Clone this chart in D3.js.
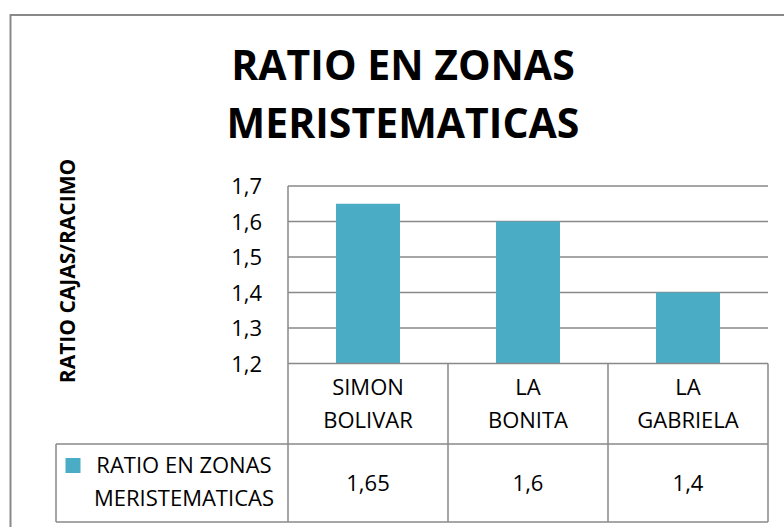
<!DOCTYPE html>
<html>
<head>
<meta charset="utf-8">
<script src="https://cdn.jsdelivr.net/npm/d3@7"></script>
<style>
	html, body {margin:0; padding:0; background:#fff;}
	svg {display:block; font-family:"Open Sans", sans-serif;}
</style>
</head>
<body>
<div id="chart"></div>
<script>
//Data
var categories = ["SIMON BOLIVAR", "LA BONITA", "LA GABRIELA"];
var values = [1.65, 1.6, 1.4];
var valueLabels = ["1,65", "1,6", "1,4"];
var seriesName = ["RATIO EN ZONAS", "MERISTEMATICAS"];
var yTicks = [1.2, 1.3, 1.4, 1.5, 1.6, 1.7];
var titleLines = ["RATIO EN ZONAS", "MERISTEMATICAS"];
var yTitle = "RATIO CAJAS/RACIMO";

//Sizing
var width = 784, height = 527;
var plot = {left: 288, right: 768, top: 186, bottom: 363.5};
var tableBottom = 522;
var rowSplit = 444;
var legendLeft = 56;
var barColor = "#4bacc6";
var lineColor = "#898989";

var svg = d3.select("#chart").append("svg")
	.attr("width", width)
	.attr("height", height);

//Outer chart border (runs off the right and bottom edges)
svg.append("rect")
	.attr("x", 10.5).attr("y", 15)
	.attr("width", 800).attr("height", 540)
	.attr("fill", "none")
	.attr("stroke", lineColor)
	.attr("stroke-width", 2);

//Title
svg.append("g").selectAll("text")
	.data(titleLines)
	.enter().append("text")
		.attr("x", 403)
		.attr("y", function(d, i){return 80 + i*58;})
		.attr("text-anchor", "middle")
		.attr("font-size", 41)
		.attr("font-weight", "bold")
		.attr("fill", "#000")
		.text(function(d){return d;});

//Scales
var x = d3.scaleBand()
	.domain(categories)
	.range([plot.left, plot.right])
	.paddingInner(0.6)
	.paddingOuter(0.3);
var xCell = d3.scaleBand()
	.domain(categories)
	.range([plot.left, plot.right]);
var y = d3.scaleLinear()
	.domain([1.2, 1.7])
	.range([plot.bottom, plot.top]);

//Gridlines
svg.append("g").selectAll("line")
	.data(yTicks.slice(1))
	.enter().append("line")
		.attr("x1", plot.left).attr("x2", plot.right)
		.attr("y1", function(d){return y(d);})
		.attr("y2", function(d){return y(d);})
		.attr("stroke", lineColor)
		.attr("stroke-width", 1.5);

//Bars
svg.append("g").selectAll("rect")
	.data(values)
	.enter().append("rect")
		.attr("x", function(d, i){return x(categories[i]);})
		.attr("y", function(d){return y(d);})
		.attr("width", x.bandwidth())
		.attr("height", function(d){return y(1.2) - y(d);})
		.attr("fill", barColor);

//Y axis (ticks only as labels)
var yAxis = svg.append("g")
	.attr("transform", "translate(" + plot.left + ",0)")
	.call(d3.axisLeft(y).tickValues(yTicks).tickSize(0).tickPadding(26)
		.tickFormat(function(d){return d3.format(".1f")(d).replace(".", ",");}));
yAxis.select(".domain").remove();
yAxis.selectAll("text")
	.attr("font-family", "Open Sans, sans-serif")
	.attr("font-size", 22)
	.attr("fill", "#000")
	.attr("dy", "0.36em");

//Y axis title
svg.append("text")
	.attr("transform", "translate(75,271) rotate(-90)")
	.attr("text-anchor", "middle")
	.attr("font-size", 21)
	.attr("font-weight", "bold")
	.attr("fill", "#000")
	.text(yTitle);

//Data table lines
var table = svg.append("g")
	.attr("stroke", lineColor)
	.attr("stroke-width", 1.5)
	.attr("fill", "none");
table.append("line")
	.attr("x1", plot.left).attr("x2", plot.right)
	.attr("y1", plot.bottom).attr("y2", plot.bottom);
table.append("line")
	.attr("x1", legendLeft).attr("x2", plot.right)
	.attr("y1", rowSplit).attr("y2", rowSplit);
table.append("line")
	.attr("x1", legendLeft).attr("x2", plot.right)
	.attr("y1", tableBottom).attr("y2", tableBottom);
table.append("line")
	.attr("x1", legendLeft).attr("x2", legendLeft)
	.attr("y1", rowSplit).attr("y2", tableBottom);
table.append("line")
	.attr("x1", plot.left).attr("x2", plot.left)
	.attr("y1", plot.top).attr("y2", tableBottom);
table.selectAll("line.cell")
	.data(categories)
	.enter().append("line")
		.attr("class", "cell")
		.attr("x1", function(d){return xCell(d) + xCell.bandwidth();})
		.attr("x2", function(d){return xCell(d) + xCell.bandwidth();})
		.attr("y1", plot.bottom).attr("y2", tableBottom);

//Category labels (two lines each)
var catLabels = svg.append("g").selectAll("text")
	.data(categories)
	.enter().append("text")
		.attr("text-anchor", "middle")
		.attr("font-size", 22)
		.attr("fill", "#000");
catLabels.selectAll("tspan")
	.data(function(d){
		var c = xCell(d) + xCell.bandwidth()/2;
		return d.split(" ").map(function(w){return {w: w, c: c};});
	})
	.enter().append("tspan")
		.attr("x", function(d){return d.c;})
		.attr("y", function(d, i){return 395 + i*33;})
		.text(function(d){return d.w;});

//Values row
svg.append("g").selectAll("text")
	.data(valueLabels)
	.enter().append("text")
		.attr("x", function(d, i){return xCell(categories[i]) + xCell.bandwidth()/2;})
		.attr("y", 491)
		.attr("text-anchor", "middle")
		.attr("font-size", 22)
		.attr("fill", "#000")
		.text(function(d){return d;});

//Legend key in the table
svg.append("rect")
	.attr("x", 65.5).attr("y", 458)
	.attr("width", 15).attr("height", 15)
	.attr("fill", barColor);
svg.append("g").selectAll("text")
	.data(seriesName)
	.enter().append("text")
		.attr("x", 184)
		.attr("y", function(d, i){return 473 + i*32.5;})
		.attr("text-anchor", "middle")
		.attr("font-size", 22)
		.attr("fill", "#000")
		.text(function(d){return d;});
</script>
</body>
</html>
